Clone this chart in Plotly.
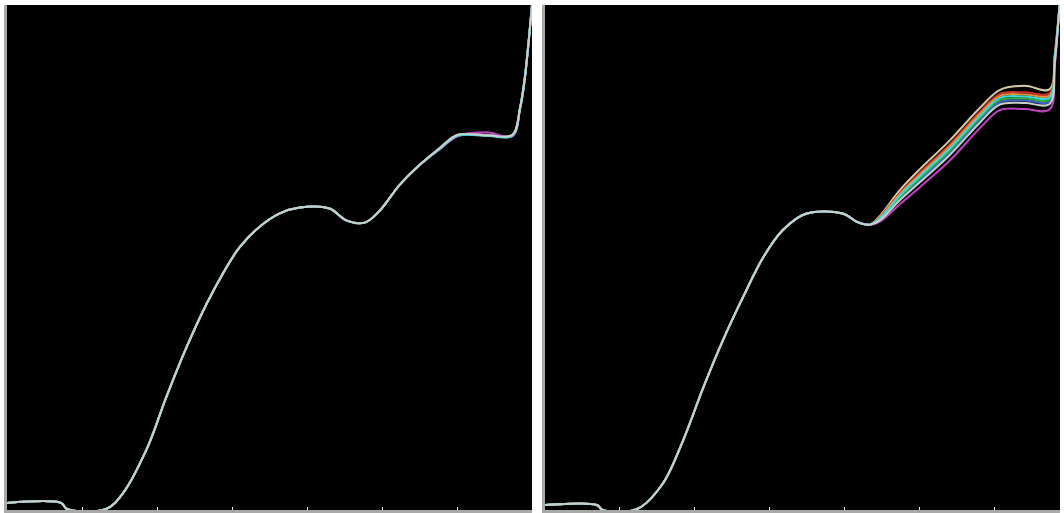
import plotly.graph_objects as go

# ---------------- data ----------------
series_names = ["S1", "S2", "S3", "S4", "S5", "S6", "S8", "S7"]
series_colors = ["#d8c8a8", "#d03030", "#e09030", "#4060d0", "#30b040", "#c040c0", "#40d8d8", "#c8d0cc"]

# left panel
left_x_head = [0, 7.2, 8.0, 13.2, 15.4, 18.7, 21.2, 23.9, 26.6, 28.7, 31.0, 33.6, 36.3, 39.0, 43.0,
               45.3, 47.7, 49.7, 52.3, 55.0]
left_y_head = [1.4, 1.4, 0.2, 0.2, 3.2, 12.3, 22.2, 32.1, 40.8, 46.6, 52.0, 56.0, 58.7, 59.9, 59.7,
               57.3, 56.9, 59.3, 64.3, 68.3]
left_x_tail = [57.7, 60.1, 64.0, 67.4, 68.4, 69.0, 70.0]
left_tail_S1 = [71.7, 74.3, 74.3, 74.3, 79.6, 85.2, 100]
left_tail_S2 = [71.6, 74.2, 74.1, 74.2, 79.5, 85.0, 100]
left_tail_S3 = [71.6, 74.2, 74.2, 74.2, 79.5, 85.0, 100]
left_tail_S4 = [71.5, 74.1, 74.2, 74.1, 79.4, 85.0, 100]
left_tail_S5 = [71.6, 74.2, 74.2, 74.2, 79.5, 85.0, 100]
left_tail_S6 = [71.4, 74.0, 74.8, 74.0, 79.3, 84.8, 100]
left_tail_S8 = [71.5, 74.1, 74.1, 74.1, 79.4, 84.9, 100]
left_tail_S7 = [71.7, 74.3, 74.2, 74.3, 79.6, 85.1, 100]

# right panel
right_x_head = [0, 6.9, 7.7, 12.3, 15.7, 18.4, 21.1, 23.7, 26.4, 29.1, 31.7, 34.9, 39.7, 41.7, 43.3]
right_y_head = [1.0, 1.0, 0.0, 0.2, 5.2, 13.7, 24.2, 33.5, 42.1, 50.0, 55.4, 58.7, 58.7, 57.0, 56.5]
right_x_tail = [44.7, 47.3, 50.0, 54.0, 58.0, 60.7, 64.0, 67.3, 68.0, 68.7]
right_tail_S1 = [58.3, 63.3, 67.5, 73.2, 79.6, 83.2, 84.0, 83.3, 90.2, 101]
right_tail_S2 = [58.1, 62.7, 66.8, 72.4, 78.8, 82.4, 82.7, 82.5, 89.7, 101]
right_tail_S3 = [58.0, 62.5, 66.4, 72.0, 78.4, 82.0, 82.3, 82.1, 89.5, 101]
right_tail_S4 = [57.6, 61.6, 65.3, 70.8, 77.2, 80.8, 81.1, 80.9, 88.8, 101]
right_tail_S5 = [57.7, 61.9, 65.7, 71.2, 77.6, 81.2, 81.5, 81.3, 89.0, 101]
right_tail_S6 = [57.1, 60.5, 63.9, 69.2, 75.6, 79.2, 79.4, 79.3, 87.8, 101]
right_tail_S8 = [57.8, 62.2, 66.1, 71.6, 78.0, 81.6, 81.9, 81.7, 89.2, 101]
right_tail_S7 = [57.4, 61.3, 64.9, 70.3, 76.7, 80.3, 80.6, 80.4, 88.5, 101]

x_ticks = [0, 10, 20, 30, 40, 50, 60, 70]

left_tails = [left_tail_S1, left_tail_S2, left_tail_S3, left_tail_S4,
              left_tail_S5, left_tail_S6, left_tail_S8, left_tail_S7]
right_tails = [right_tail_S1, right_tail_S2, right_tail_S3, right_tail_S4,
               right_tail_S5, right_tail_S6, right_tail_S8, right_tail_S7]

# ---------------- figure ----------------
W, H = 1064, 513
fig = go.Figure()

for name, color, lt, rt in zip(series_names, series_colors, left_tails, right_tails):
    fig.add_trace(go.Scatter(
        x=left_x_head + left_x_tail, y=left_y_head + lt, name=name, mode="lines",
        line=dict(color=color, width=2, shape="spline", smoothing=1.0),
        xaxis="x", yaxis="y", showlegend=False))
    fig.add_trace(go.Scatter(
        x=right_x_head + right_x_tail, y=right_y_head + rt, name=name, mode="lines",
        line=dict(color=color, width=2, shape="spline", smoothing=1.0),
        xaxis="x2", yaxis="y2", showlegend=False))

axis_common = dict(showgrid=False, zeroline=False, showline=True, linecolor="#a8a8a8",
                   linewidth=3, mirror=False)
ydom = [(H - 510) / H, (H - 5) / H]

fig.update_layout(
    width=W, height=H,
    margin=dict(l=0, r=0, t=0, b=0),
    paper_bgcolor="white", plot_bgcolor="black",
    xaxis=dict(domain=[7 / W, 532 / W], range=[0, 70], tickvals=x_ticks,
               ticks="inside", ticklen=3, tickcolor="#e8e8e8", tickwidth=1,
               showticklabels=False, anchor="y", **axis_common),
    yaxis=dict(domain=ydom, range=[0, 100], ticks="", showticklabels=False,
               anchor="x", **axis_common),
    xaxis2=dict(domain=[545 / W, 1060 / W], range=[0, 68.7], tickvals=x_ticks,
                ticks="inside", ticklen=3, tickcolor="#e8e8e8", tickwidth=1,
                showticklabels=False, anchor="y2", **axis_common),
    yaxis2=dict(domain=ydom, range=[0, 100], ticks="", showticklabels=False,
                anchor="x2", **axis_common),
)

fig.write_html("out.html", config={"displayModeBar": False},
               post_script="document.body.style.margin='0';")
